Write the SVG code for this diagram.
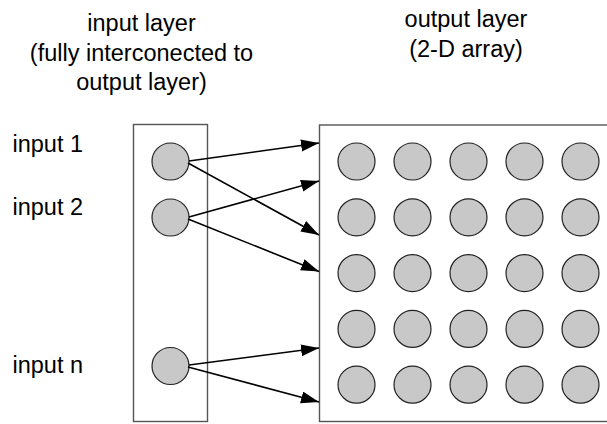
<svg xmlns="http://www.w3.org/2000/svg" width="607" height="424" viewBox="0 0 607 424">
<style>
text{font-family:"Liberation Sans",Arial,sans-serif;font-size:23.5px;fill:#000}
.t{text-anchor:middle}
.box{fill:#fff;stroke:#555;stroke-width:1.4}
.n{fill:#c8c8c8;stroke:#222;stroke-width:1.2}
.c{stroke:#000;stroke-width:1.6;fill:none;marker-end:url(#ah)}
</style>
<defs>
<marker id="ah" markerUnits="userSpaceOnUse" markerWidth="19" markerHeight="13" refX="18" refY="6" orient="auto">
<path d="M0,0 L18,6 L0,12 z" fill="#000"/>
</marker>
</defs>
<g id="titles">
<text class="t" x="141.5" y="30.5">input layer</text>
<text class="t" x="141.5" y="60.5">(fully interconected to</text>
<text class="t" x="141.5" y="90">output layer)</text>
<text class="t" x="466" y="27">output layer</text>
<text class="t" x="466" y="57">(2-D array)</text>
</g>
<g id="labels">
<text x="12.5" y="151.7">input 1</text>
<text x="12.5" y="215">input 2</text>
<text x="12.5" y="373.3">input n</text>
</g>
<g id="input-layer">
<rect class="box" x="133.5" y="124.5" width="74" height="297"/>
<circle class="n" cx="170.5" cy="161.5" r="18.5"/>
<circle class="n" cx="170.5" cy="217.5" r="18.5"/>
<circle class="n" cx="170.5" cy="366" r="18.5"/>
</g>
<g id="output-layer">
<rect class="box" x="319.5" y="125" width="300" height="296.5"/>
<g id="row1">
<circle class="n" cx="356.5" cy="161.5" r="18.5"/><circle class="n" cx="412.5" cy="161.5" r="18.5"/><circle class="n" cx="468.5" cy="161.5" r="18.5"/><circle class="n" cx="524.5" cy="161.5" r="18.5"/><circle class="n" cx="580.5" cy="161.5" r="18.5"/>
</g>
<g id="row2">
<circle class="n" cx="356.5" cy="217.3" r="18.5"/><circle class="n" cx="412.5" cy="217.3" r="18.5"/><circle class="n" cx="468.5" cy="217.3" r="18.5"/><circle class="n" cx="524.5" cy="217.3" r="18.5"/><circle class="n" cx="580.5" cy="217.3" r="18.5"/>
</g>
<g id="row3">
<circle class="n" cx="356.5" cy="273.1" r="18.5"/><circle class="n" cx="412.5" cy="273.1" r="18.5"/><circle class="n" cx="468.5" cy="273.1" r="18.5"/><circle class="n" cx="524.5" cy="273.1" r="18.5"/><circle class="n" cx="580.5" cy="273.1" r="18.5"/>
</g>
<g id="row4">
<circle class="n" cx="356.5" cy="328.9" r="18.5"/><circle class="n" cx="412.5" cy="328.9" r="18.5"/><circle class="n" cx="468.5" cy="328.9" r="18.5"/><circle class="n" cx="524.5" cy="328.9" r="18.5"/><circle class="n" cx="580.5" cy="328.9" r="18.5"/>
</g>
<g id="row5">
<circle class="n" cx="356.5" cy="384.7" r="18.5"/><circle class="n" cx="412.5" cy="384.7" r="18.5"/><circle class="n" cx="468.5" cy="384.7" r="18.5"/><circle class="n" cx="524.5" cy="384.7" r="18.5"/><circle class="n" cx="580.5" cy="384.7" r="18.5"/>
</g>
</g>
<g id="connectors">
<line class="c" x1="189" y1="161" x2="319" y2="143"/>
<line class="c" x1="188" y1="163" x2="319" y2="235"/>
<line class="c" x1="189" y1="217" x2="319" y2="181"/>
<line class="c" x1="188" y1="219" x2="319" y2="271.5"/>
<line class="c" x1="189" y1="365" x2="319" y2="348"/>
<line class="c" x1="188" y1="367" x2="319" y2="402"/>
</g>
</svg>
